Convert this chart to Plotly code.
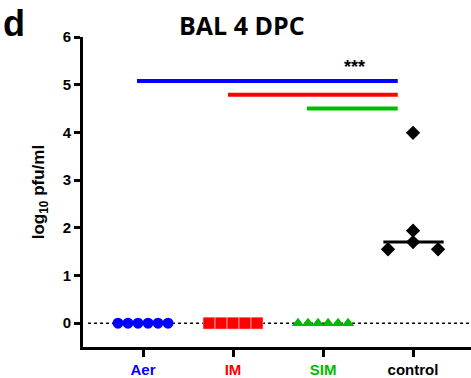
import plotly.graph_objects as go

categories = ["Aer", "IM", "SIM", "control"]
cat_colors = ["#0000FF", "#FF0000", "#00BB00", "#000000"]

aer_vals = [0, 0, 0, 0, 0, 0]
im_vals = [0, 0, 0, 0, 0]
sim_vals = [0, 0, 0, 0, 0, 0]
control_vals = [3.99, 1.94, 1.70, 1.55, 1.55]
control_median = 1.70

aer_jitter = [-0.278, -0.167, -0.056, 0.056, 0.167, 0.278]
im_jitter = [-0.267, -0.133, 0.0, 0.133, 0.267]
sim_jitter = [-0.278, -0.167, -0.056, 0.056, 0.167, 0.278]
control_jitter = [0.0, 0.0, 0.0, -0.278, 0.278]

# significance bars: (start x, end x, y, color)
sig_start = [-0.067, 0.944, 1.82]
sig_end = [2.83, 2.83, 2.83]
sig_y = [5.08, 4.79, 4.50]
sig_colors = ["#0000FF", "#FF0000", "#00BB00"]

fig = go.Figure()

fig.add_shape(type="line", xref="paper", yref="y", x0=0.013, x1=1, y0=0, y1=0,
              line=dict(color="black", width=1.5, dash="dot"), layer="below")

fig.add_trace(go.Scatter(x=[0 + j for j in aer_jitter], y=aer_vals, mode="markers",
                         marker=dict(symbol="circle", size=11, color="#0000FF"), showlegend=False))
fig.add_trace(go.Scatter(x=[1 + j for j in im_jitter], y=im_vals, mode="markers",
                         marker=dict(symbol="square", size=12, color="#FF0000",
                                     line=dict(width=0.5, color="white")), showlegend=False))
fig.add_trace(go.Scatter(x=[2 + j for j in sim_jitter], y=sim_vals, mode="markers",
                         marker=dict(symbol="triangle-up", size=11, color="#00BB00"), showlegend=False))
fig.add_trace(go.Scatter(x=[3 + j for j in control_jitter], y=control_vals, mode="markers",
                         marker=dict(symbol="diamond", size=11, color="#000000"), showlegend=False))
fig.add_trace(go.Scatter(x=[3 - 0.33, 3 + 0.34], y=[control_median, control_median], mode="lines",
                         line=dict(color="black", width=3), showlegend=False))

for s, e, y, c in zip(sig_start, sig_end, sig_y, sig_colors):
    fig.add_trace(go.Scatter(x=[s, e], y=[y, y], mode="lines",
                             line=dict(color=c, width=4), showlegend=False))

fig.add_annotation(x=2.35, y=5.38, xref="x", yref="y", text="<b>***</b>", showarrow=False,
                   font=dict(family="Liberation Sans", size=18, color="black"))

fig.add_annotation(x=0.41, y=1.0, xref="paper", yref="paper", yanchor="bottom", yshift=-7,
                   text="<b>BAL 4 DPC</b>", showarrow=False,
                   font=dict(family="Open Sans", size=25, color="black"))
fig.add_annotation(x=-0.214, y=1.045, xref="paper", yref="paper", xanchor="left", yanchor="middle",
                   xshift=1, text="<b>d</b>", showarrow=False,
                   font=dict(family="Liberation Sans", size=36, color="black"))
fig.add_annotation(x=-0.11, y=0.5, xref="paper", yref="paper", xanchor="center", yanchor="middle",
                   yshift=0, textangle=-90, text="<b>log<sub>10</sub> pfu/ml</b>", showarrow=False,
                   font=dict(family="Liberation Sans", size=17, color="black"))

ticktext = [f'<span style="color:{c}"><b>{t}</b></span>' for t, c in zip(categories, cat_colors)]

fig.update_xaxes(range=[-0.667, 3.644], tickvals=[0, 1, 2, 3], ticktext=ticktext,
                 showline=True, linecolor="black", linewidth=3, ticks="outside",
                 ticklen=7, tickwidth=3, tickcolor="black", showgrid=False, zeroline=False,
                 tickfont=dict(family="Liberation Sans", size=15))
fig.update_yaxes(range=[-0.5, 6], tickvals=[0, 1, 2, 3, 4, 5, 6],
                 ticktext=[f"<b>{v}</b>" for v in [0, 1, 2, 3, 4, 5, 6]],
                 showline=True, linecolor="black", linewidth=3, ticks="outside",
                 ticklen=6, tickwidth=3, tickcolor="black", showgrid=False, zeroline=False,
                 tickfont=dict(family="Liberation Sans", size=15, color="black"))

fig.update_layout(width=471, height=378, margin=dict(l=83, r=0, t=37, b=29),
                  plot_bgcolor="white", paper_bgcolor="white")

fig.write_html("out.html")
